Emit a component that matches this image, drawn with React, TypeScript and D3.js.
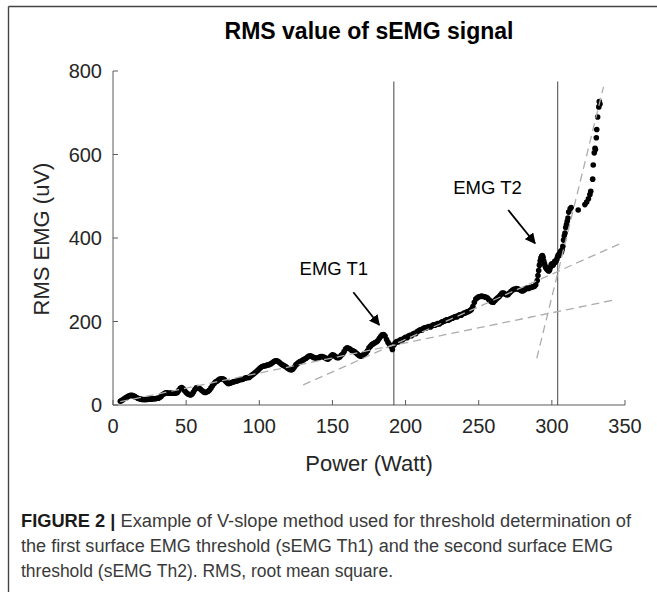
import React from "react";
import * as d3 from "d3";

// ---- data: [power (W), RMS EMG (uV)] ----
const rampA: [number, number][] = [
  [5, 9], [6, 11], [7, 13], [8, 16], [9, 18], [10, 20], [11, 22], [12, 23], [13, 23], [14, 22],
  [15, 20], [16, 18], [17, 16], [18, 15], [19, 14], [20, 13], [21, 13], [22, 13], [23, 13], [24, 14],
  [25, 14], [26, 14], [27, 15], [28, 15], [29, 15], [30, 16], [31, 16], [32, 18], [33, 21], [34, 25],
  [35, 27], [36, 29], [37, 29], [38, 28], [39, 28], [40, 29], [41, 28], [42, 28], [43, 29], [44, 30],
  [45, 35], [46, 40], [47, 42], [48, 39], [49, 34], [50, 30], [51, 27], [52, 25], [53, 24], [54, 26],
  [55, 31], [56, 37], [57, 41], [58, 42], [59, 40], [60, 37], [61, 34], [62, 31], [63, 30], [64, 31],
  [65, 33], [66, 36], [67, 41], [68, 46], [69, 51], [70, 55], [71, 57], [72, 60], [73, 62], [74, 63],
  [75, 63], [76, 61], [77, 57], [78, 53], [79, 51], [80, 52], [81, 54], [82, 55], [83, 56], [84, 57],
  [85, 58], [86, 59], [87, 61], [88, 61], [89, 62], [90, 64], [91, 65], [92, 66], [93, 66], [94, 69],
  [95, 72], [96, 74], [97, 77], [98, 80], [99, 83], [100, 87],
];

const rampB: [number, number][] = [
  [101, 90], [102, 92], [103, 93], [104, 94], [105, 95], [106, 96], [107, 97], [108, 99], [109, 101], [110, 104],
  [111, 106], [112, 106], [113, 104], [114, 101], [115, 98], [116, 96], [117, 94], [118, 92], [119, 89], [120, 87],
  [121, 85], [122, 84], [123, 86], [124, 91], [125, 96], [126, 99], [127, 102], [128, 104], [129, 106], [130, 108],
  [131, 110], [132, 112], [133, 115], [134, 117], [135, 118], [136, 116], [137, 114], [138, 113], [139, 112], [140, 113],
  [141, 114], [142, 116], [143, 116], [144, 115], [145, 113], [146, 111], [147, 110], [148, 113], [149, 117], [150, 120],
  [151, 119], [152, 116], [153, 114], [154, 113], [155, 115], [156, 119], [157, 122], [158, 128], [159, 134], [160, 137],
  [161, 136], [162, 134], [163, 131], [164, 130], [165, 128], [166, 125], [167, 122], [168, 119], [169, 117], [170, 117],
  [171, 120], [172, 123], [173, 125], [174, 130], [175, 137], [176, 141], [177, 145], [178, 147], [179, 149], [180, 151],
  [181, 154], [182, 159], [183, 164], [184, 168], [185, 169], [186, 165], [187, 157], [188, 150], [189, 145], [190, 141],
  [191, 133], [192, 144],
];

const rampC: [number, number][] = [
  [193, 149], [194, 152], [195, 151], [196, 155], [197, 157], [198, 156], [199, 160], [200, 162], [201, 161], [202, 165],
  [203, 167], [204, 166], [205, 170], [206, 172], [207, 171], [208, 176], [209, 178], [210, 180], [211, 179], [212, 183],
  [213, 185], [214, 184], [215, 187], [216, 188], [217, 187], [218, 190], [219, 192], [220, 191], [221, 193], [222, 195],
  [223, 194], [224, 197], [225, 199], [226, 200], [227, 202], [228, 204], [229, 203], [230, 205], [231, 207], [232, 208],
  [233, 210], [234, 212], [235, 211], [236, 214], [237, 216], [238, 215], [239, 218], [240, 220], [241, 221], [242, 223],
  [243, 224], [244, 226], [245, 229], [246, 236], [247, 246], [248, 254], [249, 257], [250, 259], [251, 260], [252, 261],
  [253, 260], [254, 259], [255, 258], [256, 256], [257, 252], [258, 249], [259, 247], [260, 246], [261, 250], [262, 254],
  [263, 257], [264, 260], [265, 264], [266, 268], [267, 268], [268, 266], [269, 264], [270, 264], [271, 268], [272, 272],
  [273, 275], [274, 277], [275, 278], [276, 279], [277, 278], [278, 276], [279, 274], [280, 273], [281, 275], [282, 278],
  [283, 280], [284, 279], [285, 281], [286, 282], [287, 283], [288, 284], [289, 288],
];

const rampTail: [number, number][] = [
  [290, 298], [290.5, 310], [291, 322], [291.5, 335], [292, 345], [292.5, 352], [293, 356], [293.5, 358], [294, 354],
  [294.5, 345], [295, 338], [295.5, 332], [296, 328], [296.5, 326], [297, 324], [297.5, 322], [298, 321], [298.5, 324],
  [299, 330], [299.5, 336], [300, 338], [300.5, 334], [301, 336], [301.5, 340], [302, 344], [302.5, 342], [303, 346],
  [303.5, 350], [304, 356], [304.5, 360], [305, 358], [305.5, 364], [306, 368], [306.5, 366], [307, 372], [307.5, 380],
  [308, 395], [308.5, 405], [309, 412], [309.5, 425], [310, 432], [310.5, 440], [311, 448], [311.5, 462], [312.5, 470],
  [313.2, 473], [318, 467], [322.6, 480], [323.8, 486], [325, 494], [326, 504], [326.6, 512], [327.9, 541], [328.3, 575],
  [329, 604], [329.5, 615], [329.8, 612], [330.4, 640], [330.7, 660], [331.3, 690], [332.1, 714], [332.4, 727], [332.9, 721],
];

// V-slope regression lines (dashed), endpoints [power, uV]
const fitLines: [number, number][][] = [
  [[5, 8], [344.5, 253]],
  [[130, 48], [347, 387]],
  [[289.7, 112], [335.3, 762]],
];

// thresholds (W)
const thresholds = [192, 304];
const thresholdTop = 775;

// annotations: label position and arrow from -> to
const annotations = [
  { label: "EMG T1", at: [151, 311], from: [164.3, 270], to: [182, 191.6] },
  { label: "EMG T2", at: [256, 505], from: [270.2, 467], to: [288.5, 387.3] },
];

const xTicks = [0, 50, 100, 150, 200, 250, 300, 350];
const yTicks = [0, 200, 400, 600, 800];

const title = "RMS value of sEMG signal";
const xLabel = "Power (Watt)";
const yLabel = "RMS EMG (uV)";
const captionBold = "FIGURE 2 | ";
const captionLines = [
  "Example of V-slope method used for threshold determination of",
  "the first surface EMG threshold (sEMG Th1) and the second surface EMG",
  "threshold (sEMG Th2). RMS, root mean square.",
];
const captionWidths = [610, 592, 372];

const W = 657;
const H = 592;
const FONT = "'Liberation Sans', Arial, Helvetica, sans-serif";

export default function App() {
  const x = d3.scaleLinear().domain([0, 350]).range([113, 625]);
  const y = d3.scaleLinear().domain([0, 800]).range([405, 71]);
  const data = [...rampA, ...rampB, ...rampC, ...rampTail];
  const line = d3
    .line<[number, number]>()
    .x((d) => x(d[0]))
    .y((d) => y(d[1]));

  const axisColor = "#5a5a5a";
  const tickColor = "#262626";

  return (
    <svg
      width={W}
      height={H}
      viewBox={`0 0 ${W} ${H}`}
      style={{ position: "absolute", left: 0, top: 0, background: "#fff" }}
      fontFamily={FONT}
    >
      <defs>
        <marker
          id="arrowHead"
          viewBox="0 0 10 10"
          refX="9"
          refY="5"
          markerWidth="6"
          markerHeight="6"
          markerUnits="strokeWidth"
          orient="auto"
        >
          <path d="M0,0 L10,5 L0,10 z" fill="#000" />
        </marker>
      </defs>
      <rect x={0} y={0} width={W} height={H} fill="#fff" />
      {/* frame */}
      <line x1={8.5} y1={6.5} x2={W} y2={6.5} stroke="#444" strokeWidth={1.4} />
      <line x1={8.5} y1={6.5} x2={8.5} y2={H} stroke="#444" strokeWidth={1.4} />

      {/* title */}
      <text x={369} y={39} textAnchor="middle" fontSize={23} fontWeight="bold" fill="#000">
        {title}
      </text>

      {/* axes */}
      <line x1={x(0)} y1={y(0)} x2={x(350)} y2={y(0)} stroke={axisColor} strokeWidth={1} />
      <line x1={x(0)} y1={y(0)} x2={x(0)} y2={y(800)} stroke={axisColor} strokeWidth={1} />
      {xTicks.map((t) => (
        <g key={"xt" + t}>
          <line x1={x(t)} x2={x(t)} y1={y(0)} y2={y(0) - 5} stroke={axisColor} />
          <text x={x(t)} y={433} textAnchor="middle" fontSize={20} fill={tickColor}>
            {t}
          </text>
        </g>
      ))}
      {yTicks.map((t) => (
        <g key={"yt" + t}>
          <line x1={x(0)} x2={x(0) + 5} y1={y(t)} y2={y(t)} stroke={axisColor} />
          <text x={102} y={y(t) + 7} textAnchor="end" fontSize={20} fill={tickColor}>
            {t}
          </text>
        </g>
      ))}
      <text x={369} y={471} textAnchor="middle" fontSize={22} fill={tickColor}>
        {xLabel}
      </text>
      <text
        transform={`translate(49, ${y(400) + 1}) rotate(-90)`}
        textAnchor="middle"
        fontSize={22}
        fill={tickColor}
      >
        {yLabel}
      </text>

      {/* threshold lines */}
      {thresholds.map((t) => (
        <line
          key={"th" + t}
          x1={x(t)}
          x2={x(t)}
          y1={y(0)}
          y2={y(thresholdTop)}
          stroke="#444"
          strokeWidth={1}
        />
      ))}

      {/* data */}
      <g fill="#000">
        {data.map((d, i) => (
          <circle key={i} cx={x(d[0])} cy={y(d[1])} r={2.8} />
        ))}
      </g>

      {/* fitted lines */}
      {fitLines.map((l, i) => (
        <path
          key={"fit" + i}
          d={line(l) || ""}
          fill="none"
          stroke="#adadad"
          strokeWidth={1.3}
          strokeDasharray="8,5"
        />
      ))}

      {/* annotations */}
      {annotations.map((a) => (
        <g key={a.label}>
          <text x={x(a.at[0])} y={y(a.at[1])} textAnchor="middle" fontSize={18.5} fill="#000">
            {a.label}
          </text>
          <line
            x1={x(a.from[0])}
            y1={y(a.from[1])}
            x2={x(a.to[0])}
            y2={y(a.to[1])}
            stroke="#000"
            strokeWidth={1.8}
            markerEnd="url(#arrowHead)"
          />
        </g>
      ))}

      {/* caption */}
      {captionLines.map((c, i) => (
        <text
          key={"cap" + i}
          x={21}
          y={527 + i * 25}
          fontSize={18}
          fill="#3a3a3a"
          textLength={captionWidths[i]}
          lengthAdjust="spacingAndGlyphs"
        >
          {i === 0 ? (
            <tspan fontWeight="bold" fill="#1a1a1a">
              {captionBold}
            </tspan>
          ) : null}
          {c}
        </text>
      ))}
    </svg>
  );
}
